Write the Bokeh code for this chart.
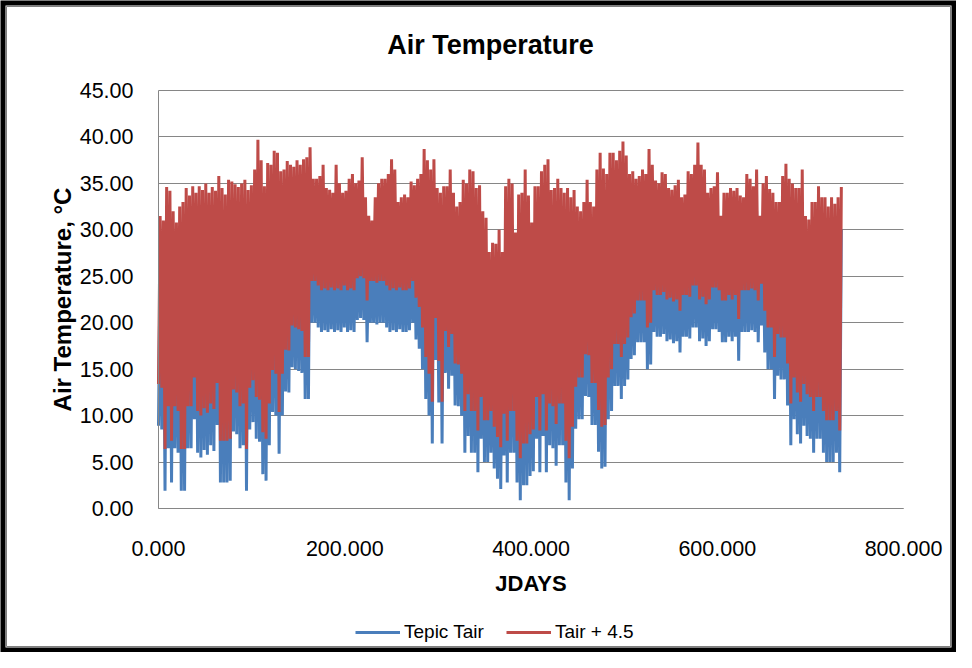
import numpy as np
from bokeh.plotting import figure
from bokeh.models import (FixedTicker, NumeralTickFormatter, Legend, LegendItem,
                          ColumnDataSource, BoxAnnotation, Label)
from bokeh.embed import file_html
from bokeh.resources import INLINE

# ---------------- data ----------------
title_text = "Air Temperature"
x_label = "JDAYS"
y_label = "Air Temperature, \u00b0C"
series_names = ["Tepic Tair", "Tair + 4.5"]
series_offset = 4.5            # second series is Tair + 4.5
x_ticks = [0, 200, 400, 600, 800]
y_ticks = [0, 5, 10, 15, 20, 25, 30, 35, 40, 45]

sample_step_days = 3.5         # one (low, high) pair every 3.5 JDAYS

# daily lows of Tepic Tair (°C)
tair_low = [
    8.9, 8.5, 1.9, 6.5, 2.8, 6.5, 6.0, 1.9, 1.9, 6.5,
    6.5, 9.6, 6.0, 5.5, 6.3, 5.8, 6.8, 6.2, 9.0, 2.8,
    2.8, 2.8, 3.0, 8.3, 8.0, 6.5, 6.8, 1.9, 8.5, 9.3,
    7.5, 7.2, 3.7, 3.0, 6.8, 10.4, 10.0, 5.9, 10.0, 12.6,
    12.5, 15.2, 15.0, 14.8, 14.6, 11.8, 11.8, 20.0, 20.0, 19.5,
    19.0, 19.2, 19.0, 19.3, 19.0, 19.2, 19.0, 19.5, 19.0, 19.2,
    19.0, 20.3, 20.5, 20.3, 17.9, 20.0, 20.0, 19.8, 20.0, 20.0,
    19.5, 19.0, 19.2, 19.0, 19.3, 19.0, 19.0, 19.2, 20.0, 18.2,
    17.2, 15.0, 11.8, 10.0, 7.0, 16.0, 11.4, 7.0, 14.6, 12.9,
    14.3, 11.1, 11.0, 10.0, 6.0, 7.8, 6.0, 6.0, 3.9, 7.5,
    5.0, 5.0, 6.0, 4.3, 3.2, 2.1, 5.7, 2.8, 6.0, 6.0,
    2.8, 0.9, 2.5, 2.5, 3.5, 4.0, 7.5, 3.9, 7.8, 3.9,
    6.8, 6.5, 4.6, 6.8, 6.8, 2.8, 0.9, 4.3, 8.6, 9.6,
    9.6, 12.1, 12.0, 9.0, 9.0, 6.1, 4.3, 4.5, 9.6, 10.5,
    13.2, 13.2, 11.8, 13.2, 13.9, 16.1, 16.5, 17.9, 17.9, 17.9,
    15.0, 15.5, 19.0, 18.5, 18.5, 18.8, 18.0, 18.2, 17.8, 18.0,
    16.8, 18.5, 18.5, 18.3, 19.5, 19.5, 18.0, 18.3, 17.5, 18.0,
    19.3, 19.3, 19.0, 17.9, 17.9, 18.5, 18.0, 18.5, 15.9, 19.0,
    19.0, 19.0, 19.2, 19.0, 17.9, 19.7, 16.8, 15.0, 15.0, 11.8,
    14.3, 13.9, 13.9, 11.1, 6.8, 9.6, 8.0, 7.0, 8.9, 7.8,
    7.5, 6.0, 7.5, 7.5, 6.0, 5.0, 5.0, 5.0, 6.0, 3.9,
]

# daily highs of Tepic Tair (°C)
tair_high = [
    27.0, 26.5, 30.1, 29.7, 27.5, 26.3, 28.0, 28.5, 30.0, 29.2,
    30.2, 29.5, 30.2, 29.8, 30.5, 29.5, 30.1, 29.7, 31.3, 30.0,
    29.3, 30.9, 30.7, 30.4, 30.1, 30.5, 30.9, 29.8, 30.3, 32.0,
    35.2, 33.0, 30.2, 32.7, 32.5, 34.0, 33.8, 31.8, 32.0, 32.9,
    32.5, 32.3, 33.0, 32.5, 33.1, 33.3, 34.4, 31.0, 31.0, 31.3,
    32.5, 30.0, 29.8, 29.5, 32.5, 30.5, 29.5, 29.7, 31.0, 31.5,
    30.5, 30.8, 33.3, 29.0, 27.0, 26.5, 29.0, 30.5, 31.0, 31.0,
    31.5, 33.1, 32.0, 28.5, 29.0, 29.3, 29.0, 30.7, 30.3, 31.0,
    31.5, 34.2, 33.0, 32.0, 33.1, 30.0, 29.5, 30.2, 30.2, 32.0,
    29.5, 28.0, 28.5, 30.9, 30.5, 32.0, 31.8, 30.0, 30.3, 27.5,
    26.8, 23.1, 24.1, 24.0, 25.5, 23.1, 30.2, 31.0, 30.5, 25.2,
    29.3, 29.5, 32.0, 29.2, 26.3, 30.2, 30.2, 31.8, 32.5, 33.1,
    29.8, 30.0, 31.0, 30.0, 29.5, 30.0, 29.0, 29.8, 28.0, 27.5,
    28.5, 30.9, 28.5, 28.0, 32.0, 33.8, 32.1, 31.5, 33.8, 33.8,
    33.0, 34.0, 35.0, 33.5, 31.5, 31.8, 31.0, 31.3, 32.0, 31.5,
    34.2, 32.5, 30.8, 30.5, 31.7, 31.5, 30.0, 29.8, 30.3, 30.9,
    29.0, 29.3, 31.8, 31.5, 32.5, 34.9, 32.5, 32.0, 29.5, 30.0,
    30.2, 31.7, 27.0, 29.5, 29.5, 30.0, 29.7, 30.0, 29.2, 29.0,
    31.5, 31.0, 30.2, 32.0, 27.0, 30.5, 31.3, 29.9, 29.5, 28.5,
    28.5, 31.3, 32.6, 31.0, 30.5, 30.0, 30.0, 32.0, 27.0, 26.6,
    28.5, 28.5, 30.2, 29.0, 29.0, 28.0, 29.0, 28.3, 29.0, 30.1,
]

# ---------------- build the line (low / high alternating) ----------------
days = np.arange(len(tair_low)) * sample_step_days
xs = np.column_stack([days, days + sample_step_days / 2]).ravel()
tair = np.column_stack([tair_low, tair_high]).ravel()
src = ColumnDataSource(dict(x=xs, tair=tair, tair_plus=tair + series_offset))

# ---------------- layout geometry (pixels) ----------------
FONT = "Liberation Sans"
GRID = "#868686"
W, H = 956, 652
X0_PX, X1_PX = 158, 903     # pixel columns of x = 0 and x = 800
Y0_PX, Y1_PX = 508, 90      # pixel rows of y = 0 and y = 45
XMIN, XMAX, YMIN, YMAX = x_ticks[0], x_ticks[-1], y_ticks[0], y_ticks[-1]
sx = (X1_PX - X0_PX) / (XMAX - XMIN)
sy = (Y0_PX - Y1_PX) / (YMAX - YMIN)

def px_x(px):
    return XMIN + (px - X0_PX) / sx

def px_y(py):
    return YMIN + (Y0_PX - py) / sy

# the frame covers the whole canvas so that every element can be drawn in it
p = figure(width=W, height=H, output_backend="svg", toolbar_location=None,
           x_range=(px_x(0), px_x(W)), y_range=(px_y(H), px_y(0)),
           min_border_left=0, min_border_right=0,
           min_border_top=0, min_border_bottom=0,
           background_fill_color="white", border_fill_color="white")
p.outline_line_color = None

r1 = p.line("x", "tair", source=src, line_color="#4A7EBB", line_width=3)
r2 = p.line("x", "tair_plus", source=src, line_color="#BE4B48", line_width=3)

p.xgrid.visible = False
p.ygrid.grid_line_color = GRID
p.ygrid.grid_line_width = 1
p.ygrid.ticker = FixedTicker(ticks=y_ticks)
p.ygrid.bounds = (YMIN, YMAX)
p.ygrid.cross_bounds = (XMIN, XMAX)

for ax in (p.xaxis[0], p.yaxis[0]):
    ax.axis_line_color = GRID
    ax.axis_line_width = 1
    ax.major_tick_line_color = None
    ax.minor_tick_line_color = None
    ax.major_label_text_font = FONT
    ax.major_label_text_font_size = "21.5px"
    ax.major_label_text_color = "black"
    ax.axis_label_text_font = FONT
    ax.axis_label_text_font_style = "bold"
    ax.axis_label_text_color = "black"

p.xaxis.fixed_location = YMIN
p.xaxis.bounds = (XMIN, XMAX)
p.xaxis.ticker = FixedTicker(ticks=x_ticks)
p.xaxis.formatter = NumeralTickFormatter(format="0.000")
p.xaxis.axis_label = x_label
p.xaxis.axis_label_text_font_size = "22px"
p.xaxis.major_label_standoff = 26
p.xaxis.axis_label_standoff = 12

p.yaxis.fixed_location = XMIN
p.yaxis.bounds = (YMIN, YMAX)
p.yaxis.ticker = FixedTicker(ticks=y_ticks)
p.yaxis.formatter = NumeralTickFormatter(format="0.00")
p.yaxis.axis_label = y_label
p.yaxis.axis_label_text_font_size = "24px"
p.yaxis.major_label_standoff = 19
p.yaxis.axis_label_standoff = 1

# chart title
p.add_layout(Label(x=px_x(490), y=px_y(44), text=title_text,
                   text_font=FONT, text_font_size="27px", text_font_style="bold",
                   text_color="black", text_align="center",
                   text_baseline="alphabetic"))

legend = Legend(items=[LegendItem(label=series_names[0], renderers=[r1]),
                       LegendItem(label=series_names[1], renderers=[r2])],
                orientation="horizontal", location=(355, 9),
                glyph_width=45, glyph_height=20, label_standoff=4, spacing=22,
                padding=0, margin=0, border_line_color=None,
                background_fill_alpha=0,
                label_text_font=FONT, label_text_font_size="19px",
                label_text_color="black")
p.add_layout(legend, "center")

# chart-area border: thick black outer line and thin grey inner line
p.add_layout(BoxAnnotation(left=px_x(0), right=px_x(W), top=px_y(0), bottom=px_y(H),
                           fill_alpha=0, line_color="black", line_alpha=1.0,
                           line_width=10, level="overlay"))
p.add_layout(BoxAnnotation(left=px_x(6), right=px_x(W - 6), top=px_y(6),
                           bottom=px_y(H - 6),
                           fill_alpha=0, line_color="#808080", line_alpha=1.0,
                           line_width=1, level="overlay"))

open("out.html", "w").write(file_html(p, INLINE))
